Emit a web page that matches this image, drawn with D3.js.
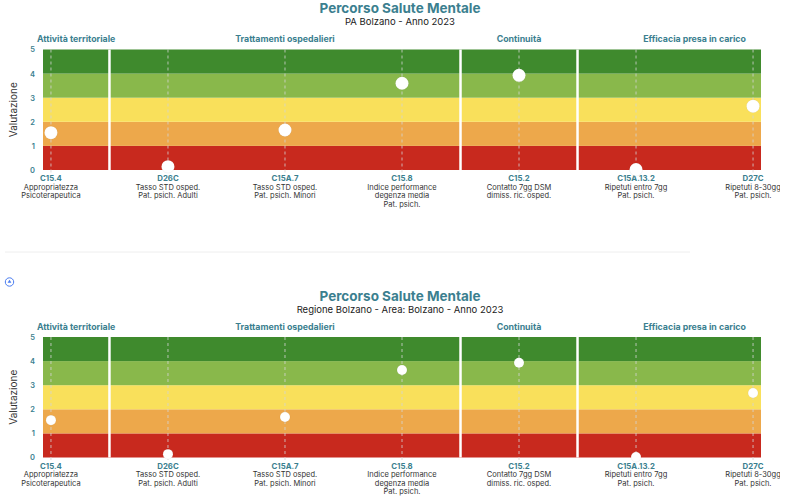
<!DOCTYPE html>
<html>
<head>
<meta charset="utf-8">
<script src="https://cdn.jsdelivr.net/npm/d3@7"></script>
<style>
  body { margin: 0; background: #fff; font-family: Inter, "Open Sans", sans-serif; }
  svg { display: block; }
</style>
</head>
<body>
<svg id="chart"></svg>
<script>
// indicatori
const codes = ["C15.4", "D26C", "C15A.7", "C15.8", "C15.2", "C15A.13.2", "D27C"];
const descriptions = [
	["Appropriatezza", "Psicoterapeutica"],
	["Tasso STD osped.", "Pat. psich. Adulti"],
	["Tasso STD osped.", "Pat. psich. Minori"],
	["Indice performance", "degenza media", "Pat. psich."],
	["Contatto 7gg DSM", "dimiss. ric. osped."],
	["Ripetuti entro 7gg", "Pat. psich."],
	["Ripetuti 8-30gg", "Pat. psich."],
];
const groupNames = ["Attività territoriale", "Trattamenti ospedalieri", "Continuità", "Efficacia presa in carico"];
const categoryGroup = [0, 1, 1, 1, 2, 3, 3];

// valutazioni
const valuesPA = [1.55, 0.14, 1.66, 3.6, 3.93, 0.02, 2.65];
const valuesRegione = [1.55, 0.14, 1.68, 3.63, 3.93, 0.02, 2.68];

const yTicks = [0, 1, 2, 3, 4, 5];
const bandColors = ["#c8291e", "#eda84b", "#f9e05b", "#89b84b", "#3f8a2d"];

const charts = [
	{ title: "Percorso Salute Mentale", subtitle: "PA Bolzano - Anno 2023", values: valuesPA, top: 0, r: 6.5 },
	{ title: "Percorso Salute Mentale", subtitle: "Regione Bolzano - Area: Bolzano  - Anno 2023", values: valuesRegione, top: 287.5, r: 5 },
];

const width = 780, height = 500;
const teal = "#3b7f8f";
const svg = d3.select("#chart").attr("width", width).attr("height", height);

const x = d3.scalePoint().domain(codes).range([43, 761]).padding(0.068);

function drawChart(cfg) {
	const g = svg.append("g").attr("transform", `translate(0,${cfg.top})`);
	const y = d3.scaleLinear().domain([0, 5]).range([170, 49.5]);

	g.append("text").attr("x", 400).attr("y", 13)
		.attr("text-anchor", "middle").attr("font-size", 13.5).attr("font-weight", 700)
		.attr("fill", teal).text(cfg.title);
	g.append("text").attr("x", 400).attr("y", 25)
		.attr("text-anchor", "middle").attr("font-size", 9.5)
		.attr("fill", "#222").text(cfg.subtitle);

	// fasce di valutazione
	const [x0, x1] = x.range();
	g.append("g").selectAll("rect")
		.data(bandColors)
		.join("rect")
		.attr("x", x0)
		.attr("width", x1 - x0)
		.attr("y", (d, i) => y(i + 1))
		.attr("height", (d, i) => y(i) - y(i + 1))
		.attr("fill", (d) => d);

	// separatori tra gruppi
	const step = x.step();
	const seps = [];
	for (let i = 1; i < codes.length; i++) {
		if (categoryGroup[i] !== categoryGroup[i - 1]) seps.push(x(codes[i]) - step / 2);
	}
	g.append("g").selectAll("line")
		.data(seps)
		.join("line")
		.attr("x1", (d) => d).attr("x2", (d) => d)
		.attr("y1", y(5)).attr("y2", y(0))
		.attr("stroke", "#fff").attr("stroke-width", 2.5);

	// linee tratteggiate
	g.append("g").selectAll("line")
		.data(codes)
		.join("line")
		.attr("x1", (d) => x(d)).attr("x2", (d) => x(d))
		.attr("y1", y(5)).attr("y2", y(0) + 6)
		.attr("stroke", "#d4d4d4").attr("stroke-width", 0.8)
		.attr("stroke-dasharray", "3,3");

	// asse y
	const yAxis = g.append("g")
		.attr("transform", `translate(${x0 - 8},0)`)
		.call(d3.axisLeft(y).tickValues(yTicks).tickFormat(d3.format("d")).tickSize(0).tickPadding(0));
	yAxis.select(".domain").remove();
	yAxis.selectAll("text")
		.attr("font-family", "Inter, sans-serif")
		.attr("font-size", 7.5).attr("font-weight", 600).attr("fill", teal);

	g.append("text")
		.attr("transform", `translate(17,${(y(0) + y(5)) / 2}) rotate(-90)`)
		.attr("text-anchor", "middle").attr("font-size", 10).attr("fill", "#333")
		.text("Valutazione");

	// etichette gruppi
	groupNames.forEach((name, gi) => {
		const xs = codes.filter((c, i) => categoryGroup[i] === gi).map((c) => x(c));
		const t = g.append("text")
			.attr("y", 42).attr("text-anchor", "middle")
			.attr("font-size", 8.8).attr("font-weight", 700).attr("fill", teal)
			.text(name);
		const w = t.node().getComputedTextLength();
		let cx = d3.mean(xs);
		if (cx - w / 2 < 37) cx = 37 + w / 2;
		t.attr("x", cx);
	});

	// etichette categorie
	const cat = g.append("g").selectAll("g")
		.data(codes)
		.join("g")
		.attr("transform", (d) => `translate(${x(d)},${y(0) + 11})`);
	cat.append("text")
		.attr("text-anchor", "middle").attr("font-size", 7.8).attr("font-weight", 700)
		.attr("fill", teal).text((d) => d);
	cat.each(function (d, i) {
		d3.select(this).selectAll("text.desc")
			.data(descriptions[i])
			.join("text")
			.attr("class", "desc")
			.attr("y", (l, j) => 8.5 + j * 8.5)
			.attr("text-anchor", "middle").attr("font-size", 7.5).attr("fill", "#333")
			.text((l) => l);
	});

	// punti
	g.append("g").selectAll("circle")
		.data(cfg.values)
		.join("circle")
		.attr("cx", (d, i) => x(codes[i]))
		.attr("cy", (d) => y(d))
		.attr("r", cfg.r)
		.attr("fill", "#fff")
		.attr("stroke", "rgba(0,0,0,0.08)").attr("stroke-width", 0.6);
}

charts.forEach(drawChart);

// separatore e icona tra i due grafici
svg.append("line").attr("x1", 5).attr("x2", 690).attr("y1", 252).attr("y2", 252)
	.attr("stroke", "#eeeeee").attr("stroke-width", 1);
svg.append("circle").attr("cx", 9.5).attr("cy", 282).attr("r", 4.2)
	.attr("fill", "none").attr("stroke", "#4a7cf0").attr("stroke-width", 1);
svg.append("path").attr("d", "M9.5,279.8 L11.4,282.8 L7.6,282.8 Z").attr("fill", "#4a7cf0");
</script>
</body>
</html>
